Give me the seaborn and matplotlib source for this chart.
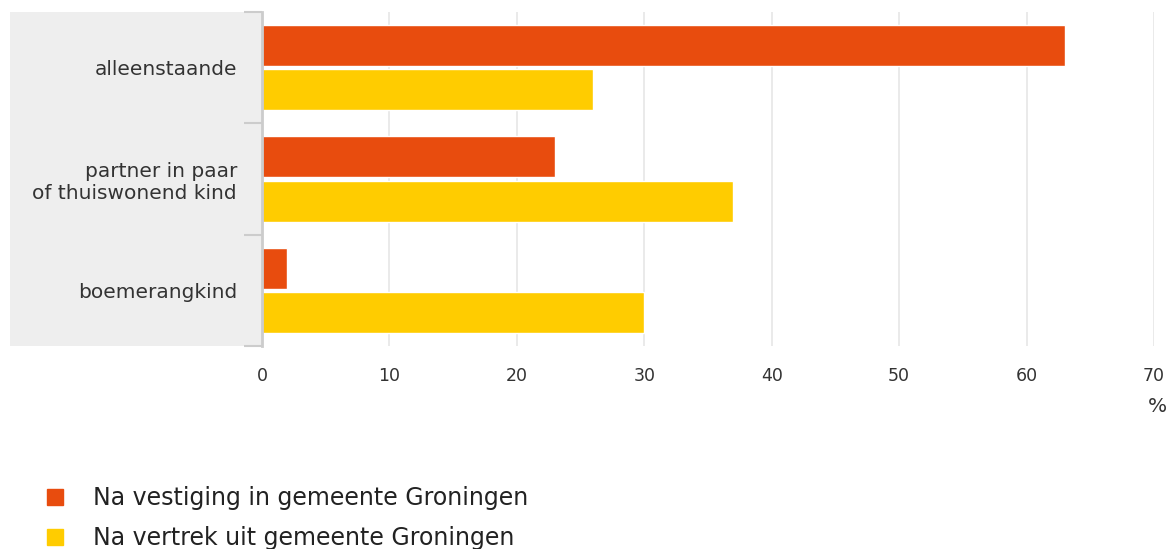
import pandas as pd
import seaborn as sns
import numpy as np
from matplotlib import pyplot as plt
from matplotlib.patches import Rectangle
from matplotlib.lines import Line2D

categories = ['alleenstaande', 'partner in paar\nof thuiswonend kind', 'boemerangkind']
series = ['Na vestiging in gemeente Groningen', 'Na vertrek uit gemeente Groningen']
vestiging = [63, 23, 2]
vertrek = [26, 37, 30]
xticks = [0, 10, 20, 30, 40, 50, 60, 70]
colors = ['#E84C0E', '#FFCC00']

df = pd.DataFrame({
    'cat': categories * 2,
    'serie': [series[0]] * 3 + [series[1]] * 3,
    'waarde': vestiging + vertrek,
})

sns.set_style('white')
plt.rcParams['font.family'] = ['DejaVu Sans']

W, H = 1171, 549
fig = plt.figure(figsize=(W / 100, H / 100), dpi=100)
ax = fig.add_axes([262 / W, 1 - 346 / H, (1154 - 262) / W, (346 - 12) / H])

# grey label panel left of the plot
fig.add_artist(Rectangle((10 / W, 1 - 346 / H), (262 - 10) / W, (346 - 12) / H,
                         transform=fig.transFigure, facecolor='#EEEEEE',
                         edgecolor='none', zorder=-1))

sns.barplot(data=df, y='cat', x='waarde', hue='serie', orient='h',
            palette=colors, width=0.8, gap=0.08, ax=ax, legend=False,
            saturation=1, zorder=3)

ax.set_xlim(0, 70)
ax.set_ylim(2.5, -0.5)
ax.set_xticks(xticks)
ax.set_xticklabels([str(t) for t in xticks])
ax.grid(axis='x', color='#E6E6E6', linewidth=1.2, zorder=0)
ax.set_xlabel('')
ax.set_ylabel('')
for s in ['top', 'right', 'bottom']:
    ax.spines[s].set_visible(False)
ax.spines['left'].set_color('#CCCCCC')
ax.spines['left'].set_linewidth(2)
ax.spines['left'].set_zorder(4)

ax.tick_params(axis='x', length=0, pad=15, labelsize=12.5, labelcolor='#333333')
ax.tick_params(axis='y', which='major', left=False, length=0, pad=18,
               labelsize=14.5, labelcolor='#333333')
ax.set_yticks([-0.5, 0.5, 1.5, 2.5], minor=True)
ax.tick_params(axis='y', which='minor', left=True, length=13, width=1.5,
               color='#CCCCCC')
for lbl in ax.get_yticklabels():
    lbl.set_multialignment('right')

fig.text(1157 / W, 1 - 407 / H, '%', ha='center', va='center',
         fontsize=14.5, color='#333333')

handles = [Line2D([], [], marker='s', linestyle='none', markersize=11,
                  markerfacecolor=c, markeredgecolor=c) for c in colors]
fig.legend(handles, series, loc='upper left', bbox_to_anchor=(34 / W, 1 - 477 / H),
           frameon=False, fontsize=17, handlelength=1, handletextpad=1.1,
           labelspacing=0.65, borderaxespad=0, labelcolor='#222222')

plt.savefig('out.png', dpi=100)
